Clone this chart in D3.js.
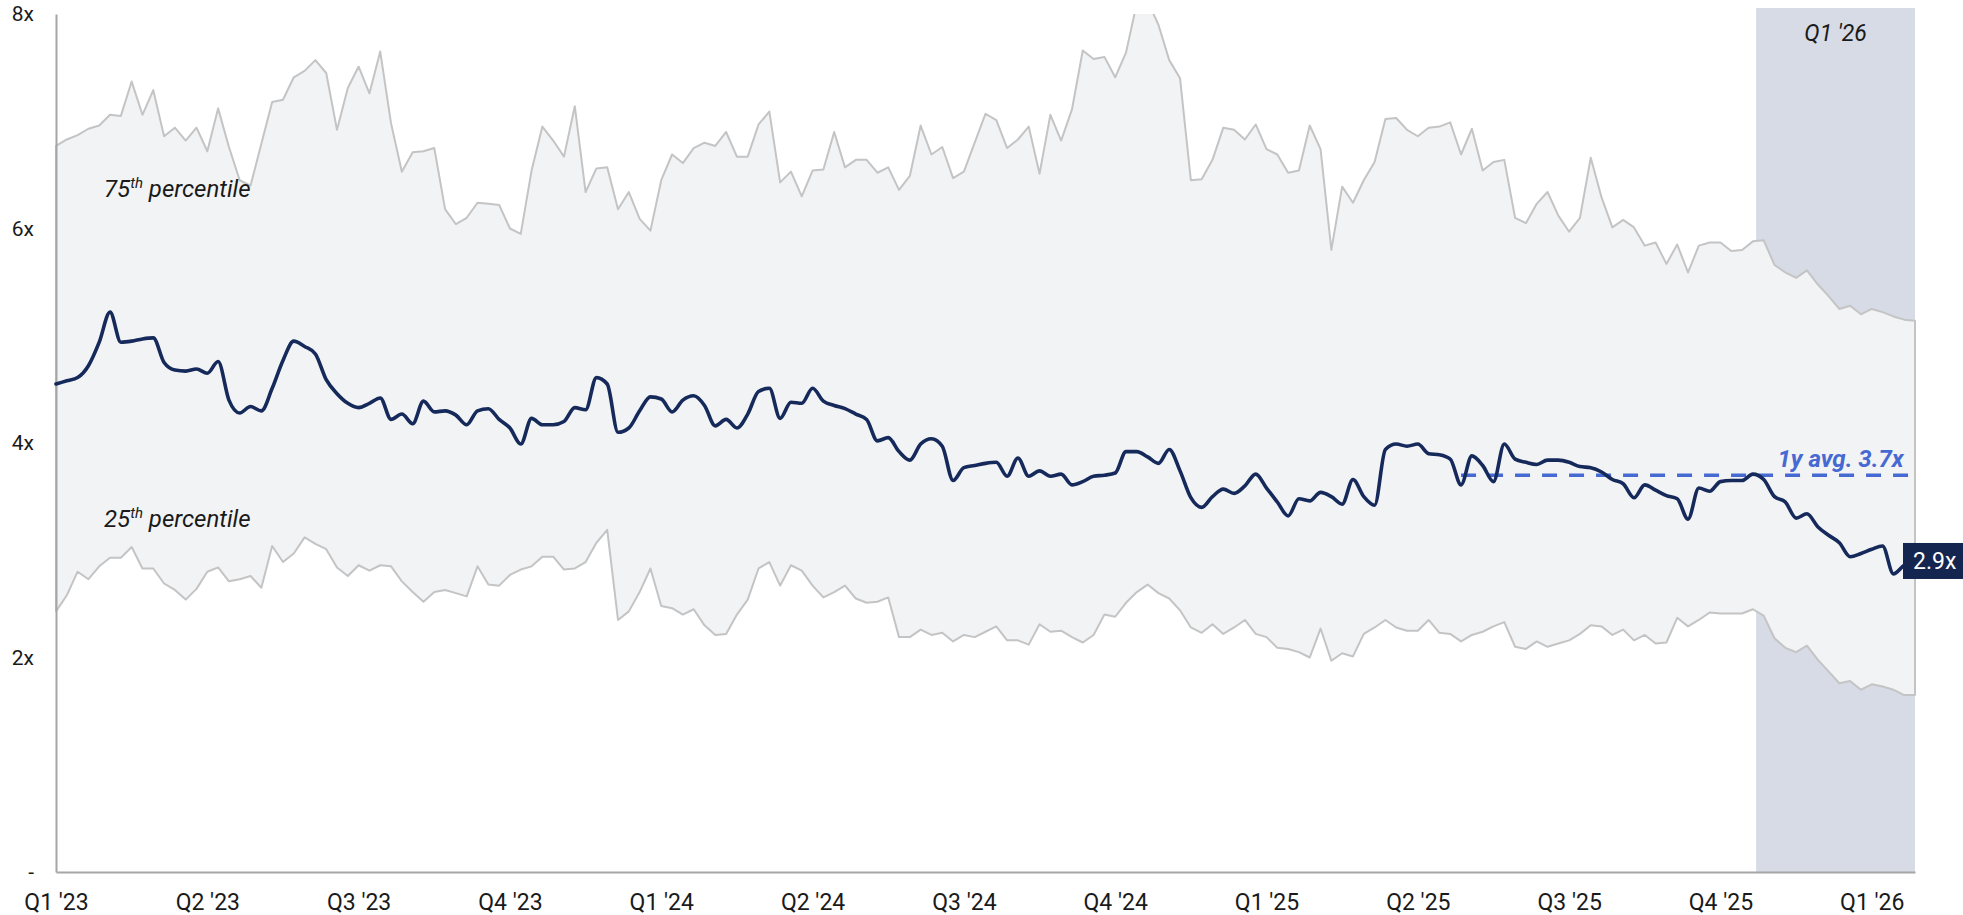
<!DOCTYPE html>
<html>
<head>
<meta charset="utf-8">
<script src="https://cdn.jsdelivr.net/npm/d3@7"></script>
<style>
  html, body { margin: 0; padding: 0; background: #ffffff; }
  svg { display: block; font-family: Roboto, "Noto Sans", sans-serif; }
</style>
</head>
<body>
<svg id="chart" width="1963" height="915"></svg>
<script>
// Weekly valuation multiples: 75th percentile, median and 25th percentile
const p75 = [
  6.77, 6.83, 6.87, 6.93, 6.96, 7.06, 7.05, 7.37, 7.06, 7.29,
  6.86, 6.94, 6.82, 6.94, 6.72, 7.12, 6.76, 6.45, 6.40, 6.79,
  7.18, 7.20, 7.41, 7.47, 7.57, 7.45, 6.92, 7.31, 7.51, 7.26,
  7.65, 6.98, 6.53, 6.71, 6.72, 6.75, 6.18, 6.04, 6.10, 6.24,
  6.23, 6.22, 6.00, 5.95, 6.54, 6.95, 6.82, 6.67, 7.14, 6.34,
  6.56, 6.57, 6.18, 6.34, 6.09, 5.98, 6.45, 6.69, 6.61, 6.75,
  6.80, 6.77, 6.90, 6.67, 6.67, 6.97, 7.09, 6.43, 6.53, 6.30,
  6.54, 6.55, 6.90, 6.57, 6.64, 6.64, 6.52, 6.57, 6.36, 6.49,
  6.96, 6.69, 6.76, 6.47, 6.53, 6.80, 7.07, 7.01, 6.75, 6.83,
  6.95, 6.51, 7.06, 6.82, 7.11, 7.66, 7.58, 7.60, 7.41, 7.64,
  8.10, 8.12, 7.90, 7.57, 7.40, 6.45, 6.46, 6.64, 6.94, 6.92,
  6.83, 6.97, 6.74, 6.69, 6.52, 6.54, 6.96, 6.74, 5.80, 6.39,
  6.24, 6.45, 6.62, 7.02, 7.03, 6.92, 6.86, 6.94, 6.95, 6.99,
  6.69, 6.93, 6.54, 6.62, 6.64, 6.10, 6.05, 6.23, 6.34, 6.12,
  5.97, 6.10, 6.66, 6.29, 6.01, 6.08, 6.01, 5.84, 5.87, 5.67,
  5.85, 5.59, 5.84, 5.87, 5.87, 5.79, 5.80, 5.88, 5.89, 5.66,
  5.59, 5.54, 5.61, 5.48, 5.37, 5.25, 5.28, 5.20, 5.25, 5.22,
  5.18, 5.15, 5.14
];

const median = [
  4.55, 4.58, 4.61, 4.72, 4.94, 5.22, 4.94, 4.95, 4.97, 4.98,
  4.75, 4.68, 4.67, 4.69, 4.65, 4.76, 4.40, 4.28, 4.34, 4.30,
  4.51, 4.77, 4.95, 4.90, 4.83, 4.59, 4.46, 4.37, 4.33, 4.37,
  4.42, 4.22, 4.27, 4.18, 4.39, 4.29, 4.30, 4.26, 4.17, 4.30,
  4.32, 4.22, 4.14, 3.99, 4.23, 4.17, 4.17, 4.20, 4.33, 4.31,
  4.61, 4.55, 4.10, 4.14, 4.30, 4.43, 4.41, 4.29, 4.40, 4.44,
  4.35, 4.16, 4.22, 4.14, 4.27, 4.48, 4.51, 4.23, 4.38, 4.37,
  4.51, 4.39, 4.35, 4.32, 4.27, 4.22, 4.02, 4.05, 3.92, 3.84,
  3.99, 4.04, 3.97, 3.65, 3.77, 3.79, 3.81, 3.82, 3.69, 3.86,
  3.69, 3.74, 3.69, 3.71, 3.61, 3.64, 3.69, 3.70, 3.72, 3.92,
  3.92, 3.87, 3.81, 3.94, 3.74, 3.49, 3.40, 3.50, 3.57, 3.53,
  3.60, 3.71, 3.58, 3.45, 3.32, 3.48, 3.46, 3.54, 3.50, 3.43,
  3.66, 3.50, 3.42, 3.94, 3.99, 3.97, 3.99, 3.90, 3.89, 3.85,
  3.61, 3.88, 3.79, 3.64, 3.99, 3.85, 3.82, 3.80, 3.84, 3.84,
  3.82, 3.78, 3.77, 3.73, 3.66, 3.62, 3.49, 3.61, 3.56, 3.51,
  3.48, 3.29, 3.58, 3.55, 3.64, 3.65, 3.65, 3.71, 3.66, 3.50,
  3.45, 3.30, 3.34, 3.22, 3.14, 3.07, 2.94, 2.97, 3.01, 3.04,
  2.78, 2.86, 2.90
];

const p25 = [
  2.43, 2.58, 2.80, 2.73, 2.85, 2.93, 2.93, 3.03, 2.83, 2.83,
  2.69, 2.63, 2.54, 2.64, 2.80, 2.84, 2.71, 2.73, 2.76, 2.65,
  3.04, 2.89, 2.97, 3.12, 3.06, 3.01, 2.84, 2.76, 2.86, 2.81,
  2.86, 2.85, 2.71, 2.61, 2.52, 2.61, 2.63, 2.60, 2.57, 2.85,
  2.68, 2.67, 2.77, 2.82, 2.85, 2.94, 2.94, 2.82, 2.83, 2.89,
  3.07, 3.19, 2.35, 2.43, 2.61, 2.83, 2.48, 2.46, 2.40, 2.45,
  2.30, 2.21, 2.22, 2.40, 2.54, 2.83, 2.89, 2.67, 2.86, 2.81,
  2.67, 2.56, 2.61, 2.67, 2.55, 2.51, 2.52, 2.56, 2.19, 2.19,
  2.26, 2.21, 2.23, 2.15, 2.21, 2.19, 2.24, 2.29, 2.16, 2.16,
  2.12, 2.31, 2.24, 2.25, 2.19, 2.14, 2.21, 2.40, 2.38, 2.51,
  2.61, 2.68, 2.60, 2.55, 2.44, 2.28, 2.23, 2.31, 2.22, 2.28,
  2.35, 2.22, 2.19, 2.09, 2.08, 2.05, 2.00, 2.27, 1.97, 2.04,
  2.01, 2.22, 2.28, 2.35, 2.28, 2.25, 2.25, 2.35, 2.23, 2.22,
  2.15, 2.21, 2.24, 2.29, 2.33, 2.10, 2.08, 2.15, 2.10, 2.13,
  2.16, 2.22, 2.30, 2.29, 2.21, 2.26, 2.16, 2.21, 2.13, 2.14,
  2.37, 2.29, 2.35, 2.42, 2.41, 2.41, 2.41, 2.45, 2.39, 2.18,
  2.09, 2.05, 2.11, 1.98, 1.87, 1.76, 1.78, 1.70, 1.75, 1.73,
  1.70, 1.65, 1.65
];

// Quarter labels along the time axis (one every 14 observations)
const quarterLabels = [
  "Q1 '23", "Q2 '23", "Q3 '23", "Q4 '23",
  "Q1 '24", "Q2 '24", "Q3 '24", "Q4 '24",
  "Q1 '25", "Q2 '25", "Q3 '25", "Q4 '25", "Q1 '26"
];
const quarterStep = 14;

const yTicks = [0, 2, 4, 6, 8];

// Highlighted current quarter and trailing average
const currentQuarter = "Q1 '26";
const currentQuarterStart = 157.3;
const avgValue = 3.7;
const avgLabel = "1y avg. 3.7x";
const avgStart = 130;
const lastLabel = "2.9x";

// ---- layout ----
const plot = { left: 56, right: 1915, top: 14, bottom: 872 };
const n = median.length;

const svg = d3.select("#chart");

const x = d3.scaleLinear().domain([0, n - 1]).range([plot.left, plot.right]);
const y = d3.scaleLinear().domain([0, 8]).range([plot.bottom, plot.top]);

svg.append("defs").append("clipPath").attr("id", "plot-clip")
  .append("rect")
  .attr("x", plot.left - 4).attr("y", plot.top)
  .attr("width", plot.right - plot.left + 8)
  .attr("height", plot.bottom - plot.top + 4);

// current-quarter highlight
const shadeX0 = x(currentQuarterStart), shadeX1 = x(n - 1);
svg.append("rect")
  .attr("x", shadeX0)
  .attr("y", 8)
  .attr("width", shadeX1 - shadeX0)
  .attr("height", plot.bottom - 8)
  .attr("fill", "#d6dbe6");

svg.append("text")
  .attr("x", (shadeX0 + shadeX1) / 2)
  .attr("y", 41)
  .attr("text-anchor", "middle")
  .attr("font-size", 23)
  .attr("font-style", "italic")
  .attr("fill", "#1a1a1a")
  .text(currentQuarter);

// interquartile band
const idx = d3.range(n);
const band = d3.area()
  .x(i => x(i))
  .y0(i => y(p25[i]))
  .y1(i => y(p75[i]))
  .curve(d3.curveLinear);

svg.append("g").attr("clip-path", "url(#plot-clip)")
  .append("path")
  .datum(idx)
  .attr("d", band)
  .attr("fill", "#f2f3f5")
  .attr("stroke", "#c4c4c4")
  .attr("stroke-width", 2)
  .attr("stroke-linejoin", "round");

// axes
const yAxis = d3.axisLeft(y)
  .tickValues(yTicks)
  .tickSize(0)
  .tickPadding(22)
  .tickFormat(d => d === 0 ? "-" : d + "x");

const gy = svg.append("g")
  .attr("transform", `translate(${plot.left},0)`)
  .call(yAxis);
gy.select(".domain").attr("stroke", "#a6a6a6").attr("stroke-width", 2);
gy.selectAll("text")
  .attr("font-size", 21)
  .attr("fill", "#1a1a1a")
  .attr("font-family", "Roboto, sans-serif");

const xAxis = d3.axisBottom(x)
  .tickValues(quarterLabels.map((_, i) => i * quarterStep))
  .tickSize(0)
  .tickPadding(22)
  .tickFormat(d => quarterLabels[d / quarterStep]);

const gx = svg.append("g")
  .attr("transform", `translate(0,${plot.bottom})`)
  .call(xAxis);
gx.select(".domain").attr("stroke", "#a6a6a6").attr("stroke-width", 2);
gx.selectAll("text")
  .attr("font-size", 23)
  .attr("fill", "#1a1a1a")
  .attr("font-family", "Roboto, sans-serif");

// percentile captions
function caption(num, sup, rest, px, py) {
  const t = svg.append("text")
    .attr("x", px).attr("y", py)
    .attr("font-size", 24)
    .attr("font-style", "italic")
    .attr("fill", "#1a1a1a");
  t.append("tspan").text(num);
  t.append("tspan").attr("font-size", 15).attr("dy", -9).text(sup);
  t.append("tspan").attr("dy", 9).text(rest);
}
caption("75", "th", " percentile", 104, 197);
caption("25", "th", " percentile", 104, 527);

// trailing average
svg.append("line")
  .attr("x1", x(avgStart)).attr("x2", x(n - 1) + 2)
  .attr("y1", y(avgValue)).attr("y2", y(avgValue))
  .attr("stroke", "#4669d2")
  .attr("stroke-width", 3.5)
  .attr("stroke-dasharray", "15,12");

svg.append("text")
  .attr("x", (shadeX0 + shadeX1) / 2 + 5)
  .attr("y", y(avgValue) - 8)
  .attr("text-anchor", "middle")
  .attr("font-size", 24)
  .attr("font-weight", "bold")
  .attr("font-style", "italic")
  .attr("fill", "#4669d2")
  .text(avgLabel);

// median line
const line = d3.line()
  .x((d, i) => x(i))
  .y(d => y(d))
  .curve(d3.curveMonotoneX);

svg.append("path")
  .datum(median)
  .attr("d", line)
  .attr("fill", "none")
  .attr("stroke", "#15295a")
  .attr("stroke-width", 3.6)
  .attr("stroke-linejoin", "round")
  .attr("stroke-linecap", "round");

// latest value tag
const lastY = y(median[n - 1]);
svg.append("rect")
  .attr("x", x(n - 1) - 12)
  .attr("y", lastY - 18)
  .attr("width", 62)
  .attr("height", 36)
  .attr("fill", "#14254f");

svg.append("text")
  .attr("x", x(n - 1) - 2)
  .attr("y", lastY)
  .attr("dy", "0.35em")
  .attr("font-size", 23)
  .attr("fill", "#ffffff")
  .text(lastLabel);
</script>
</body>
</html>
